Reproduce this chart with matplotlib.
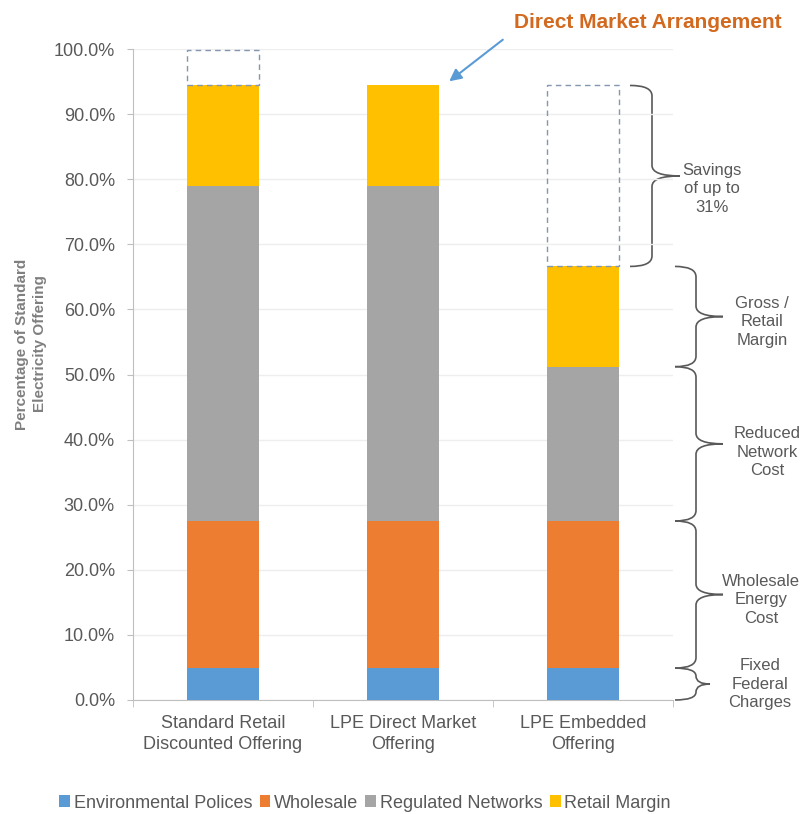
import numpy as np
import matplotlib.pyplot as plt
import matplotlib.transforms as mtransforms
from matplotlib.path import Path
from matplotlib.patches import PathPatch, Rectangle

plt.rcParams['font.family'] = ['Liberation Sans', 'DejaVu Sans']

categories = ["Standard Retail\nDiscounted Offering", "LPE Direct Market\nOffering", "LPE Embedded\nOffering"]
env = [4.9, 4.9, 4.9]
wholesale = [22.6, 22.6, 22.6]
networks = [51.5, 51.5, 23.7]
retail = [15.4, 15.4, 15.4]
potential = [5.4, 0.0, 27.8]   # dashed "what it would be" outline above bars

series_names = ["Environmental Polices", "Wholesale", "Regulated Networks", "Retail Margin"]
colors = ["#5B9BD5", "#ED7D31", "#A5A5A5", "#FFC000"]

brace_labels = ["Savings\nof up to\n31%", "Gross /\nRetail\nMargin", "Reduced\nNetwork\nCost",
                "Wholesale\nEnergy\nCost", "Fixed\nFederal\nCharges"]

TXT = "#595959"


def px(x):
    # figure pixel x -> axes fraction
    return (x - 133) / 540.0


def brace(ax, y0, y1, xl, xs, xt, r=1.6, color="#595959"):
    trans = mtransforms.blended_transform_factory(ax.transAxes, ax.transData)
    ym = (y0 + y1) / 2.0
    r = min(r, (y1 - y0) / 4.0)
    verts = [(xl, y1), (xs, y1), (xs, y1 - r),
             (xs, ym + r), (xs, ym), (xt, ym),
             (xs, ym), (xs, ym - r),
             (xs, y0 + r), (xs, y0), (xl, y0)]
    codes = [Path.MOVETO, Path.CURVE3, Path.CURVE3,
             Path.LINETO, Path.CURVE3, Path.CURVE3,
             Path.CURVE3, Path.CURVE3,
             Path.LINETO, Path.CURVE3, Path.CURVE3]
    ax.add_patch(PathPatch(Path(verts, codes), transform=trans, fill=False,
                           edgecolor=color, lw=1.2, clip_on=False))


fig = plt.figure(figsize=(8.05, 8.14), dpi=100)
ax = fig.add_axes([133 / 805, 114 / 814, 540 / 805, 651 / 814])

x = np.arange(len(categories))
w = 0.4
bottom = np.zeros(len(categories))
for vals, name, c in zip([env, wholesale, networks, retail], series_names, colors):
    ax.bar(x, vals, w, bottom=bottom, color=c, label=name, zorder=3)
    bottom += np.array(vals)

for xi, b, p in zip(x, bottom, potential):
    if p > 0:
        ax.add_patch(Rectangle((xi - w / 2, b), w, p, fill=False, edgecolor="#8497B0",
                               lw=1.0, ls=(0, (4, 3)), zorder=4))

ax.set_xlim(-0.5, 2.5)
ax.set_ylim(0, 100)
ax.set_yticks(np.arange(0, 101, 10))
ax.set_yticklabels([f"{v:.1f}%" for v in np.arange(0, 101, 10)])
ax.yaxis.grid(True, color="#EEEEEE", lw=1.0, zorder=0)
ax.set_xticks(x)
ax.set_xticklabels(categories, linespacing=1.3)
ax.set_xticks([-0.5, 0.5, 1.5, 2.5], minor=True)
ax.tick_params(axis="x", which="major", length=0, pad=11, labelsize=13, labelcolor=TXT)
ax.tick_params(axis="x", which="minor", length=5, color="#BFBFBF")
ax.tick_params(axis="y", length=4, pad=9, labelsize=13, labelcolor=TXT, color="#BFBFBF")
for s in ["top", "right"]:
    ax.spines[s].set_visible(False)
for s in ["left", "bottom"]:
    ax.spines[s].set_color("#BFBFBF")

fig.text(31 / 805, 1 - 344 / 814, "Percentage of Standard\nElectricity Offering", rotation=90,
         ha="center", va="center", fontsize=11, fontweight="bold", color="#7F7F7F",
         linespacing=1.3)

# braces on the right of the embedded offering
b3 = 2
tops = np.cumsum([env[b3], wholesale[b3], networks[b3], retail[b3]])
spans = [(tops[3], tops[3] + potential[b3]), (tops[2], tops[3]), (tops[1], tops[2]),
         (tops[0], tops[1]), (0.0, tops[0])]
brace_x = [(630, 652, 680), (675, 696, 723), (675, 696, 723), (675, 696, 723), (675, 696, 710)]
text_x = [712, 762, 767, 761, 760]
text_dy = [-2.0, -0.8, -1.3, -0.8, 0.0]
for (y0, y1), (xl, xs, xt), lab, tx, dy in zip(spans, brace_x, brace_labels, text_x, text_dy):
    brace(ax, y0, y1, px(xl), px(xs), px(xt))
    ax.text(px(tx), (y0 + y1) / 2 + dy, lab, transform=mtransforms.blended_transform_factory(ax.transAxes, ax.transData),
            ha="center", va="center", fontsize=12, color=TXT, linespacing=1.3, clip_on=False)

fig.text(648 / 805, 1 - 22 / 814, "Direct Market Arrangement", ha="center", va="center",
         fontsize=15, fontweight="bold", color="#D2691E")
ax.annotate("", xy=(447 / 805, 1 - 83 / 814), xytext=(505 / 805, 1 - 38 / 814),
            xycoords="figure fraction", textcoords="figure fraction",
            arrowprops=dict(arrowstyle="-|>", color="#5B9BD5", lw=1.5, mutation_scale=18))

fig.legend(loc="center", bbox_to_anchor=(365 / 805, 1 - 803 / 814), ncol=4, frameon=False,
           fontsize=13, labelcolor=TXT, handlelength=0.6, handleheight=0.6,
           handletextpad=0.2, columnspacing=0.4)

fig.savefig("out.png", dpi=100)
